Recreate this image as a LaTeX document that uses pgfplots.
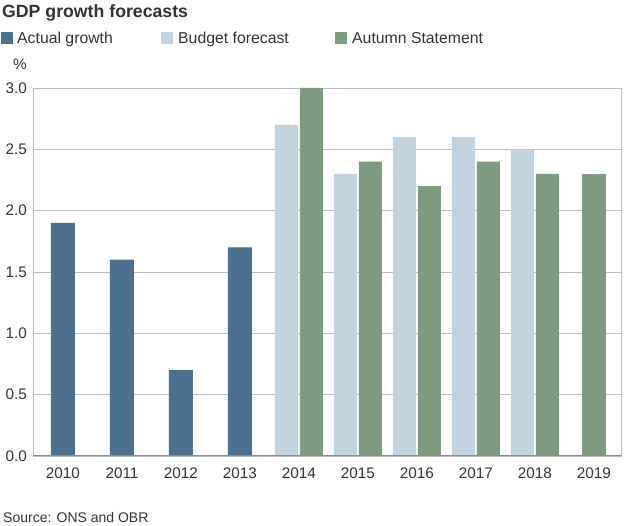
\documentclass[border=0pt]{standalone}
\usepackage{pgfplots}
\pgfplotsset{compat=1.18}
\usepackage{fontspec}
\setmainfont{Liberation Sans}
\definecolor{actual}{HTML}{4A6F8F}
\definecolor{budget}{HTML}{C1D3DE}
\definecolor{autumn}{HTML}{7E9A7F}
\definecolor{txt}{HTML}{333333}
\definecolor{gridc}{HTML}{BDBDBD}
\definecolor{axisc}{HTML}{8C8C8C}
\begin{document}
\begin{tikzpicture}
\useasboundingbox (0,0) rectangle (624bp,526bp);
\begin{axis}[
  at={(33.5bp,70bp)}, anchor=south west,
  scale only axis, width=587.5bp, height=368bp,
  xmin=-0.5, xmax=9.46, ymin=0, ymax=3,
  axis lines=box,
  axis line style={draw=gridc, line width=0.9bp},
  ymajorgrids, grid style={draw=gridc, line width=0.9bp},
  major tick length=0pt,
  xtick={0,1,2,3,4,5,6,7,8,9},
  xticklabels={2010,2011,2012,2013,2014,2015,2016,2017,2018,2019},
  ytick={0,0.5,1,1.5,2,2.5,3},
  yticklabel style={/pgf/number format/fixed, /pgf/number format/fixed zerofill, /pgf/number format/precision=1},
  /pgf/number format/assume math mode=true,
  ticklabel style={font=\fontsize{15.3bp}{17bp}\selectfont, text=txt},
  yticklabel style={inner sep=0pt, xshift=-6.5bp},
  xticklabel style={inner sep=0pt, anchor=north, yshift=-12bp},
  ybar, bar width=23bp,
  after end axis/.code={\draw[axisc, line width=1bp] (rel axis cs:0,0) -- (rel axis cs:1,0);},
]
\addplot[fill=actual, draw=none, bar width=24bp, bar shift=0bp] coordinates {(0,1.9) (1,1.6) (2,0.7) (3,1.7)};
\addplot[fill=budget, draw=none, bar shift=-12.5bp] coordinates {(4,2.7) (5,2.3) (6,2.6) (7,2.6) (8,2.5)};
\addplot[fill=autumn, draw=none, bar shift=12.5bp] coordinates {(4,3.0) (5,2.4) (6,2.2) (7,2.4) (8,2.3)};
\addplot[fill=autumn, draw=none, bar width=24bp, bar shift=0bp] coordinates {(9,2.3)};
\end{axis}
% title, legend, unit, source
\node[anchor=base west, inner sep=0pt, text=txt] at (2bp,508.5bp) {\fontsize{17.7bp}{20bp}\selectfont\bfseries GDP growth forecasts};
\fill[actual] (1bp,482bp) rectangle (12.5bp,494bp);
\node[anchor=base west, inner sep=0pt, text=txt] at (17bp,482bp) {\fontsize{15.8bp}{18bp}\selectfont Actual growth};
\fill[budget] (161bp,482bp) rectangle (172.5bp,494bp);
\node[anchor=base west, inner sep=0pt, text=txt] at (178bp,482bp) {\fontsize{15.8bp}{18bp}\selectfont Budget forecast};
\fill[autumn] (335bp,482bp) rectangle (346.5bp,494bp);
\node[anchor=base west, inner sep=0pt, text=txt] at (352bp,482bp) {\fontsize{15.8bp}{18bp}\selectfont Autumn Statement};
\node[anchor=base west, inner sep=0pt, text=txt] at (13bp,456bp) {\fontsize{15.3bp}{17bp}\selectfont \%};
\node[anchor=base west, inner sep=0pt, text=txt] at (3bp,4bp) {\fontsize{14bp}{16bp}\selectfont Source: ONS and OBR};
\end{tikzpicture}
\end{document}
